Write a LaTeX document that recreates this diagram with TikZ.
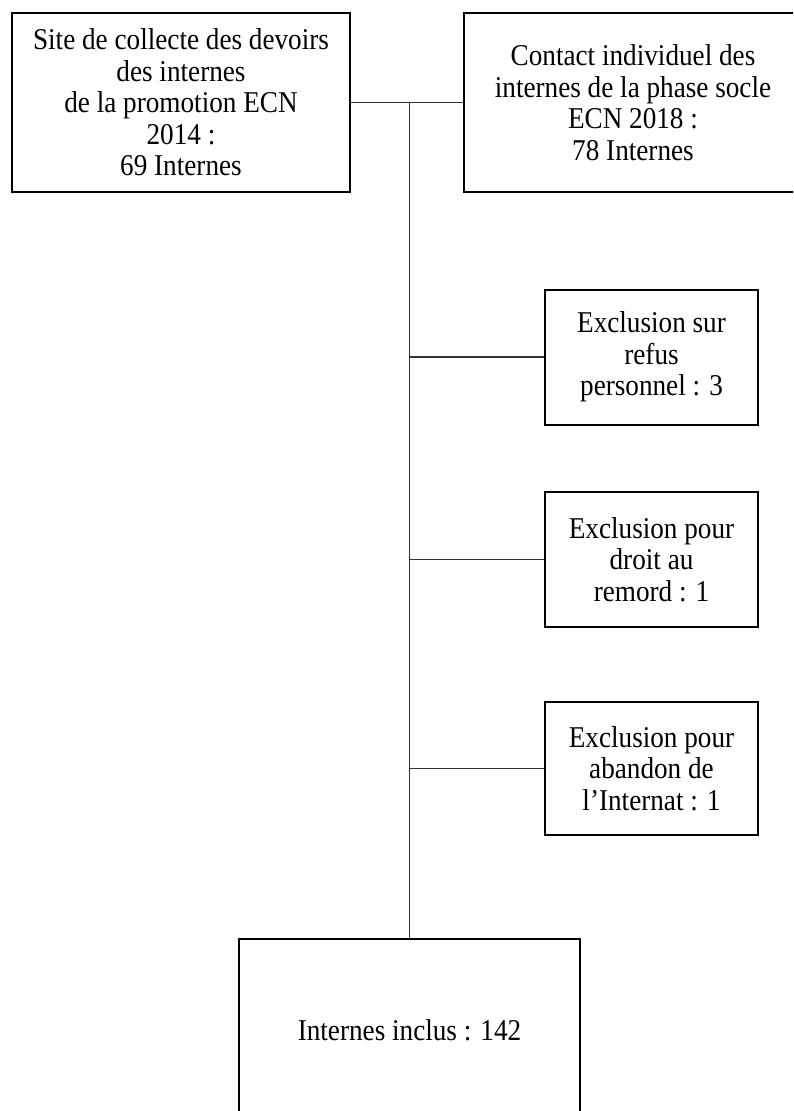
\documentclass[tikz,border=0pt]{standalone}
\usepackage{fontspec}
\setmainfont{Liberation Serif}[FakeStretch=0.9]

\begin{document}
\begin{tikzpicture}[
  x=1pt,
  y=-1pt,
  box/.style={
    draw,
    line width=2pt,
    align=center,
    inner sep=0pt,
    font=\fontsize{30.2}{31.5}\selectfont
  },
  link/.style={
    draw,
    black!80,
    line width=1.2pt
  },
]
\useasboundingbox (0,0) rectangle (793,1111);
\clip (0,0) rectangle (793,1111);
\node[box, minimum width=338pt, minimum height=179pt] (site) at (181,102.5)
  {Site de collecte des devoirs\\des internes\\de la promotion ECN\\2014 :\\69 Internes};
\node[box, minimum width=338pt, minimum height=179pt] (contact) at (633,102.5)
  {Contact individuel des\\internes de la phase socle\\ECN 2018 :\\78 Internes};
\node[box, minimum width=213pt, minimum height=135pt] (refus) at (651.5,357)
  {Exclusion sur\\refus\\personnel : 3};
\node[box, minimum width=213pt, minimum height=135pt] (remord) at (651.5,559.5)
  {Exclusion pour\\droit au\\remord : 1};
\node[box, minimum width=213pt, minimum height=133pt] (abandon) at (651.5,768.5)
  {Exclusion pour\\abandon de\\l’Internat : 1};
\node[box, minimum width=341pt, minimum height=182pt] (inclus) at (409.5,1030)
  {Internes inclus : 142};
\coordinate (trunk) at (409.5,102.5);
\draw[link] (site) -- (contact);
\draw[link] (trunk) -- (inclus.north);
\foreach \n in {refus,remord,abandon}
  \draw[link] (\n.west -| trunk) -- (\n.west);
\end{tikzpicture}
\end{document}
